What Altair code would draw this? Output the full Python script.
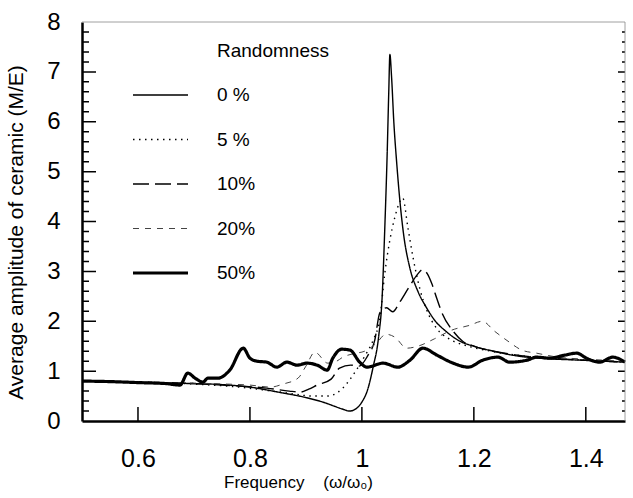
import altair as alt
import pandas as pd

# ---------------- data ----------------
SERIES = ["0 %", "5 %", "10%", "20%", "50%"]
LEGEND_HEAD = "Randomness"

X_0 = [0.5, 0.55, 0.6, 0.65, 0.7, 0.75, 0.8, 0.85, 0.9, 0.93, 0.95, 0.965, 0.978, 0.99, 1.0,
       1.01, 1.02, 1.03, 1.036, 1.041, 1.045, 1.048, 1.05, 1.053, 1.057, 1.062, 1.068, 1.075,
       1.085, 1.1, 1.115, 1.13, 1.15, 1.175, 1.2, 1.235, 1.28, 1.33, 1.39, 1.47]
Y_0 = [0.8, 0.79, 0.77, 0.76, 0.75, 0.73, 0.68, 0.58, 0.47, 0.38, 0.3, 0.24, 0.2, 0.25, 0.38,
       0.62, 1.08, 1.7, 2.45, 3.9, 5.3, 6.6, 7.35, 6.9, 6.0, 5.2, 4.4, 3.7,
       3.1, 2.6, 2.28, 2.02, 1.8, 1.6, 1.5, 1.4, 1.3, 1.25, 1.22, 1.18]

X_5 = [0.5, 0.6, 0.7, 0.78, 0.84, 0.88, 0.91, 0.94, 0.955, 0.966, 0.979, 0.99, 1.005, 1.02,
       1.032, 1.041, 1.05, 1.059, 1.066, 1.073, 1.082, 1.091, 1.104, 1.116, 1.134, 1.157,
       1.19, 1.23, 1.3, 1.4, 1.47]
Y_5 = [0.8, 0.78, 0.74, 0.68, 0.6, 0.54, 0.5, 0.5, 0.56, 0.66, 0.84, 1.02, 1.3, 1.62,
       2.05, 2.97, 3.63, 4.09, 4.35, 4.47, 3.89, 3.3, 2.63, 2.22, 1.85, 1.64,
       1.5, 1.4, 1.29, 1.22, 1.18]

X_10 = [0.5, 0.6, 0.7, 0.78, 0.83, 0.87, 0.89, 0.905, 0.92, 0.945, 0.96, 0.98, 0.995, 1.01,
        1.023, 1.032, 1.044, 1.055, 1.068, 1.085, 1.1, 1.108, 1.117, 1.125, 1.134, 1.143,
        1.163, 1.18, 1.2, 1.25, 1.3, 1.4, 1.47]
Y_10 = [0.8, 0.78, 0.75, 0.7, 0.66, 0.6, 0.58, 0.64, 0.72, 0.84, 1.06, 1.12, 1.1, 1.3,
        1.62, 2.17, 2.27, 2.19, 2.39, 2.7, 2.95, 3.03, 2.95, 2.75, 2.45, 2.17,
        1.8, 1.6, 1.5, 1.37, 1.29, 1.22, 1.18]

X_20 = [0.5, 0.6, 0.7, 0.76, 0.8, 0.837, 0.859, 0.886, 0.9, 0.916, 0.939, 0.955, 0.966, 0.985,
        1.005, 1.025, 1.043, 1.059, 1.08, 1.1, 1.13, 1.16, 1.193, 1.215, 1.237, 1.261, 1.286,
        1.312, 1.35, 1.4, 1.47]
Y_20 = [0.8, 0.78, 0.76, 0.74, 0.72, 0.68, 0.74, 0.86, 1.1, 1.38, 1.16, 1.2, 1.28, 1.35,
        1.4, 1.55, 1.74, 1.68, 1.46, 1.5, 1.65, 1.82, 1.92, 2.0, 1.8, 1.6, 1.42,
        1.36, 1.28, 1.24, 1.2]

X_50 = [0.5, 0.55, 0.6, 0.65, 0.675, 0.689, 0.702, 0.716, 0.725, 0.743, 0.764, 0.788, 0.8,
        0.812, 0.83, 0.848, 0.866, 0.884, 0.902, 0.92, 0.938, 0.948, 0.964, 0.979, 0.996,
        1.009, 1.038, 1.064, 1.086, 1.109, 1.134, 1.163, 1.19, 1.216, 1.243, 1.264, 1.295,
        1.312, 1.336, 1.362, 1.384, 1.401, 1.425, 1.448, 1.47]
Y_50 = [0.8, 0.79, 0.77, 0.75, 0.72, 0.96, 0.86, 0.78, 0.86, 0.86, 1.02, 1.46, 1.26,
        1.2, 1.18, 1.08, 1.18, 1.12, 1.16, 1.12, 1.02, 1.26, 1.44, 1.42, 1.18,
        1.08, 1.16, 1.08, 1.22, 1.46, 1.32, 1.16, 1.08, 1.22, 1.28, 1.18, 1.22,
        1.28, 1.26, 1.32, 1.36, 1.26, 1.18, 1.28, 1.18]

X_TICKS = [0.6, 0.8, 1.0, 1.2, 1.4]
Y_TICKS = [0, 1, 2, 3, 4, 5, 6, 7, 8]
Y_MAJOR = [1, 2, 3, 4, 5, 6, 7]
Y_MINOR = [round(i * 0.2, 1) for i in range(1, 40) if i % 5 != 0]

# ---------------- scales / geometry ----------------
FONT = "Liberation Sans"
W, H = 543, 399
X_DOM = [0.5, 1.47]
Y_DOM = [0, 8]
KX = W / (X_DOM[1] - X_DOM[0])     # pixels per x unit
KY = H / (Y_DOM[1] - Y_DOM[0])     # pixels per y unit
LEGEND_VALUES = [LEGEND_HEAD] + SERIES
DOMAIN = LEGEND_VALUES + ["tick", "frame"]

# ---------------- build table: curves + inward ticks + frame ----------------
rows = []
for name, xs, ys in zip(SERIES, [X_0, X_5, X_10, X_20, X_50], [Y_0, Y_5, Y_10, Y_20, Y_50]):
    for x, y in zip(xs, ys):
        rows.append({"series": name, "grp": name, "x": x, "y": y})

def seg(gid, kind, x1, y1, x2, y2):
    rows.append({"series": kind, "grp": gid, "x": x1, "y": y1})
    rows.append({"series": kind, "grp": gid, "x": x2, "y": y2})

for v in Y_MAJOR:
    seg(f"lM{v}", "tick", X_DOM[0], v, X_DOM[0] + 14 / KX, v)
    seg(f"rM{v}", "tick", X_DOM[1], v, X_DOM[1] - 7 / KX, v)
for v in Y_MINOR:
    seg(f"lm{v}", "tick", X_DOM[0], v, X_DOM[0] + 7 / KX, v)
    seg(f"rm{v}", "tick", X_DOM[1], v, X_DOM[1] - 3 / KX, v)
for v in X_TICKS:
    seg(f"b{v}", "tick", v, Y_DOM[0], v, Y_DOM[0] + 14 / KY)
seg("top", "frame", X_DOM[0], Y_DOM[1], X_DOM[1], Y_DOM[1])
seg("right", "frame", X_DOM[1], Y_DOM[0], X_DOM[1], Y_DOM[1])
df = pd.DataFrame(rows)

xscale = alt.Scale(domain=X_DOM, nice=False, zero=False)
yscale = alt.Scale(domain=Y_DOM, nice=False, zero=False)

xaxis = alt.Axis(
    values=X_TICKS, format="~g", grid=False, ticks=False,
    labelFont=FONT, labelFontSize=25, labelColor="black", labelPadding=25,
    labelFlush=False, labelOverlap=False,
    domainColor="black", domainWidth=2.5,
    title="Frequency\u00a0\u00a0\u00a0\u00a0(\u03c9/\u03c9\u2080)",
    titleFont=FONT, titleFontSize=17, titleFontWeight="normal", titleColor="black",
    titleX=216, titleY=66, titleAlign="center", titleBaseline="alphabetic",
)
yaxis = alt.Axis(
    values=Y_TICKS, format="d", grid=False, ticks=False,
    labelFont=FONT, labelFontSize=24, labelColor="black", labelPadding=22,
    labelFlush=False, labelOverlap=False,
    domainColor="black", domainWidth=2.5,
    title="Average amplitude of ceramic (M/E)",
    titleFont=FONT, titleFontSize=21, titleFontWeight="normal", titleColor="black",
    titleX=-66, titleY=210, titleAngle=270, titleAlign="center", titleBaseline="middle",
)

legend = alt.Legend(
    title=None, values=LEGEND_VALUES,
    orient="none", legendX=69, legendY=19, padding=0,
    symbolType="stroke", symbolSize=3025,
    symbolStrokeWidth=alt.ExprRef(expr="datum.value === '50%' ? 3.2 : (datum.value === '20%' ? 1.0 : 1.4)"),
    labelFont=FONT, labelFontSize=19, labelColor="black", labelOffset=47,
    rowPadding=24.5,
)

width_rule = {
    "condition": [
        {"test": "datum.series === 'frame'", "value": 0.8},
        {"test": "datum.series === 'tick'", "value": 1.5},
        {"test": "datum.series === '50%'", "value": 3.2},
        {"test": "datum.series === '20%'", "value": 1.0},
    ],
    "value": 1.4,
}

chart = alt.Chart(df).mark_line(interpolate="monotone", strokeCap="butt", strokeJoin="round").encode(
    x=alt.X("x:Q", scale=xscale, axis=xaxis),
    y=alt.Y("y:Q", scale=yscale, axis=yaxis),
    detail=alt.Detail("grp:N"),
    color=alt.Color("series:N", scale=alt.Scale(domain=DOMAIN,
                    range=["white", "black", "black", "black", "#444444", "black", "black", "#888888"]),
                    legend=legend),
    strokeDash=alt.StrokeDash("series:N", scale=alt.Scale(domain=DOMAIN,
                    range=[[1, 0], [1, 0], [1.5, 4.5], [16, 6], [6, 6], [1, 0], [1, 0], [1, 0]]),
                    legend=legend),
    strokeWidth=width_rule,
).properties(
    width=W, height=H,
    padding={"left": 82, "top": 22, "right": 8, "bottom": 77},
    autosize=alt.AutoSizeParams(type="none"),
    background="white",
).configure_view(stroke=None)

chart.save("out.html", embed_options={"renderer": "svg", "actions": False})
